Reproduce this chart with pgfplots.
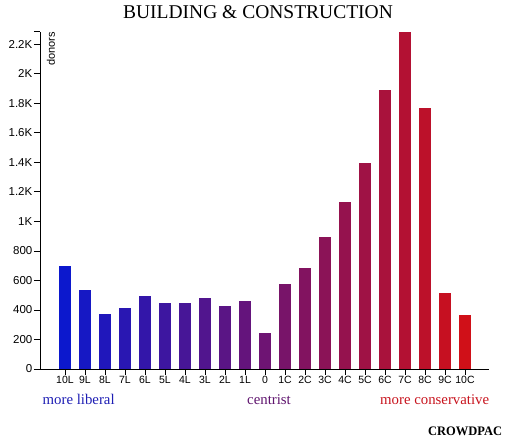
\documentclass[border=0pt]{standalone}
\usepackage{pgfplots}
\pgfplotsset{compat=1.18}
\usepackage{fontspec}
\setmainfont{Liberation Serif}
\newfontfamily\sans{Liberation Sans}
\definecolor{c0}{RGB}{12,24,205}
\definecolor{c1}{RGB}{22,24,196}
\definecolor{c2}{RGB}{32,23,187}
\definecolor{c3}{RGB}{41,23,178}
\definecolor{c4}{RGB}{51,22,169}
\definecolor{c5}{RGB}{61,22,160}
\definecolor{c6}{RGB}{71,22,151}
\definecolor{c7}{RGB}{81,21,142}
\definecolor{c8}{RGB}{90,21,133}
\definecolor{c9}{RGB}{100,20,124}
\definecolor{c10}{RGB}{110,20,115}
\definecolor{c11}{RGB}{120,20,105}
\definecolor{c12}{RGB}{130,19,96}
\definecolor{c13}{RGB}{139,19,87}
\definecolor{c14}{RGB}{149,18,78}
\definecolor{c15}{RGB}{159,18,69}
\definecolor{c16}{RGB}{169,18,60}
\definecolor{c17}{RGB}{179,17,51}
\definecolor{c18}{RGB}{188,17,42}
\definecolor{c19}{RGB}{198,16,33}
\definecolor{c20}{RGB}{208,16,24}
\definecolor{libblue}{RGB}{30,30,180}
\definecolor{centpurple}{RGB}{95,20,110}
\definecolor{conred}{RGB}{200,20,30}
\begin{document}
\begin{tikzpicture}[x=1pt,y=1pt]
\path[use as bounding box] (0,0) rectangle (506,441);
\begin{axis}[
  at={(40pt,72pt)}, anchor=south west,
  scale only axis, width=449pt, height=337.3pt,
  xmin=-1.25, xmax=21.2, ymin=0, ymax=2285,
  axis lines*=left,
  ybar, bar width=0.6, bar shift=0pt,
  xtick={0,...,20},
  xticklabels={10L,9L,8L,7L,6L,5L,4L,3L,2L,1L,0,1C,2C,3C,4C,5C,6C,7C,8C,9C,10C},
  ytick={0,200,400,600,800,1000,1200,1400,1600,1800,2000,2200},
  yticklabels={0,200,400,600,800,1K,1.2K,1.4K,1.6K,1.8K,2K,2.2K},
  extra y ticks={2285}, extra y tick labels={},
  tick align=outside, major tick length=6pt,
  tick style={black, line width=0.8pt},
  axis line style={black, line width=0.8pt},
  xticklabel style={font=\sans\fontsize{10.5}{12}\selectfont, inner sep=1pt},
  yticklabel style={font=\sans\fontsize{11.5}{13}\selectfont, inner sep=1.5pt},
  /pgf/number format/assume math mode=true,
  clip=false,
]
\addplot[fill=c0, draw=none] coordinates {(0,700)};
\addplot[fill=c1, draw=none] coordinates {(1,535)};
\addplot[fill=c2, draw=none] coordinates {(2,375)};
\addplot[fill=c3, draw=none] coordinates {(3,415)};
\addplot[fill=c4, draw=none] coordinates {(4,492)};
\addplot[fill=c5, draw=none] coordinates {(5,445)};
\addplot[fill=c6, draw=none] coordinates {(6,447)};
\addplot[fill=c7, draw=none] coordinates {(7,483)};
\addplot[fill=c8, draw=none] coordinates {(8,429)};
\addplot[fill=c9, draw=none] coordinates {(9,463)};
\addplot[fill=c10, draw=none] coordinates {(10,246)};
\addplot[fill=c11, draw=none] coordinates {(11,574)};
\addplot[fill=c12, draw=none] coordinates {(12,682)};
\addplot[fill=c13, draw=none] coordinates {(13,892)};
\addplot[fill=c14, draw=none] coordinates {(14,1129)};
\addplot[fill=c15, draw=none] coordinates {(15,1398)};
\addplot[fill=c16, draw=none] coordinates {(16,1890)};
\addplot[fill=c17, draw=none] coordinates {(17,2283)};
\addplot[fill=c18, draw=none] coordinates {(18,1770)};
\addplot[fill=c19, draw=none] coordinates {(19,515)};
\addplot[fill=c20, draw=none] coordinates {(20,364)};
\end{axis}
\node[anchor=base, font=\fontsize{19.5}{22}\selectfont, inner sep=0pt] at (258,422.7) {BUILDING \& CONSTRUCTION};
\node[rotate=90, anchor=north east, inner sep=0pt, font=\sans\fontsize{11}{12}\selectfont] at (46.7,409) {donors};
\node[anchor=base west, inner sep=0pt, text=libblue, font=\fontsize{14.8}{16}\selectfont] at (42.5,36) {more liberal};
\node[anchor=base, inner sep=0pt, text=centpurple, font=\fontsize{14.8}{16}\selectfont] at (269,36) {centrist};
\node[anchor=base east, inner sep=0pt, text=conred, font=\fontsize{14.8}{16}\selectfont] at (489.3,36) {more conservative};
\node[anchor=base east, inner sep=0pt, font=\bfseries\fontsize{13}{15}\selectfont] at (502.3,5) {\scalebox{0.96}[1]{CROWDPAC}};
\end{tikzpicture}
\end{document}
